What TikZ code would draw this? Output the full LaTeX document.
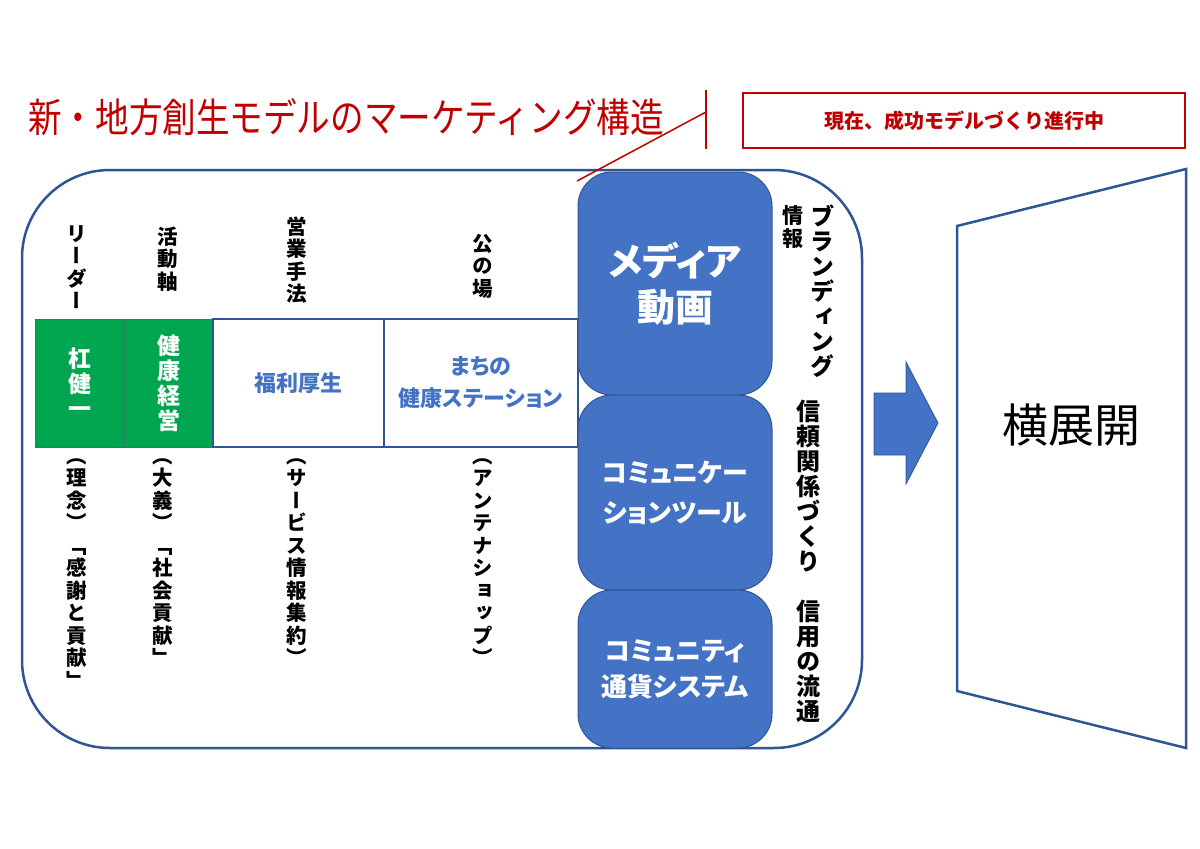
\documentclass[tikz,border=0pt]{standalone}
\usepackage{fontspec}
\setmainfont{Noto Sans CJK JP}
\newfontfamily\tatefont[RawFeature=+vert]{Noto Sans CJK JP}
\newfontfamily\boxfont[RawFeature=+palt]{Noto Sans CJK JP}
\usepackage{graphicx}
\usepackage{tikz}
\usetikzlibrary{positioning}
\definecolor{darkred}{HTML}{C00000}
\definecolor{blu}{HTML}{4472C4}
\definecolor{dblu}{HTML}{2F5597}
\definecolor{grn}{HTML}{00A550}
\definecolor{dgrn}{HTML}{2E7D5B}
\makeatletter
\newcommand\tate[1]{\vbox{\lineskiplimit=-\maxdimen\tate@a#1\@nil}}
\def\tate@a#1{\ifx\@nil#1\else\hbox to 1em{\hss#1\hss}\expandafter\tate@a\fi}
\makeatother

\begin{document}
\begin{tikzpicture}[
    x=1pt, y=-1pt,
    frame/.style={draw=dblu, line width=2.5pt, rounded corners=88pt},
    gbox/.style={rectangle, draw=dgrn, line width=1pt, fill=grn, text=white,
                 minimum width=89pt, minimum height=128pt,
                 font=\tatefont\bfseries\fontsize{23}{25}\selectfont},
    wbox/.style={rectangle, draw=dblu, line width=2.5pt, fill=white, text=blu,
                 minimum height=128pt, align=center,
                 font=\boxfont\bfseries\fontsize{22}{32}\selectfont},
    bbox/.style={rectangle, draw=dblu, line width=1pt, fill=blu, text=white,
                 minimum width=194pt, rounded corners=34pt, align=center},
    vlab/.style={inner sep=0pt, font=\tatefont\bfseries\fontsize{20.5}{22.5}\selectfont},
    rlab/.style={inner sep=0pt, anchor=north,
                 font=\tatefont\bfseries\fontsize{24}{25}\selectfont},
    redln/.style={draw=darkred, line width=1.5pt}
]
\useasboundingbox (0,0) rectangle (1200,849);
\fill[white] (0,0) rectangle (1200,849);

\node[anchor=west, inner sep=0pt, text=darkred, font=\fontsize{40}{44}\selectfont] (title) at (28,117)
    {\scalebox{0.84}[1]{新・地方創生モデルのマーケティング構造}};
\node[draw=darkred, line width=2.5pt, minimum width=442pt, minimum height=55pt, text=darkred,
      font=\bfseries\fontsize{20}{24}\selectfont] (status) at (964,120.5) {現在、成功モデルづくり進行中};

\draw[frame] (22,170) rectangle (862,748);

\node[vlab] (ldr)   at (77,267)  {\tate{リーダー}};
\node[vlab] (axis)  at (168,259) {\tate{活動軸}};
\node[vlab] (sales) at (297,260) {\tate{営業手法}};
\node[vlab] (pub)   at (483,266) {\tate{公の場}};

\node[gbox] (kou)   at (79.5,383)  {\tate{杠健一}};
\node[gbox] (kenko) at (168.5,383) {\tate{健康経営}};
\node[wbox, minimum width=171pt] (fukuri) at (298.5,383) {福利厚生};
\node[wbox, minimum width=194pt] (machi)  at (481,383)   {まちの\\健康ステーション};

\node[vlab, anchor=north] (ldrb)   at (77,458)  {\tate{（理念）「感謝と貢献」}};
\node[vlab, anchor=north] (axisb)  at (163,458) {\tate{（大義）「社会貢献」}};
\node[vlab, anchor=north] (salesb) at (297,458) {\tate{（サービス情報集約）}};
\node[vlab, anchor=north] (pubb)   at (483,458) {\tate{（アンテナショップ）}};

\node[bbox, minimum height=223pt, font=\boxfont\bfseries\fontsize{38}{46}\selectfont] (media) at (675,283.5) {メディア\\動画};
\node[bbox, minimum height=195pt, font=\boxfont\bfseries\fontsize{26}{40}\selectfont] (comm)  at (675,492.5) {コミュニケー\\ションツール};
\node[bbox, minimum height=158pt, font=\boxfont\bfseries\fontsize{26}{36}\selectfont] (coin)  at (675,669)   {コミュニティ\\通貨システム};

\node[rlab] (brand)  at (822,205) {\tate{ブランディング}};
\node[rlab, font=\tatefont\bfseries\fontsize{21}{23}\selectfont] (joho) at (793,205) {\tate{情報}};
\node[rlab] (trust)  at (808,400) {\tate{信頼関係づくり}};
\node[rlab] (credit) at (808,600) {\tate{信用の流通}};

\filldraw[fill=blu, draw=dblu, line width=0.8pt]
    (874,393) -- (906,393) -- (906,362) -- (938,423) -- (906,484) -- (906,455) -- (874,455) -- cycle;
\draw[dblu, line width=2.5pt] (957,226) -- (1186,169) -- (1186,748) -- (957,691) -- cycle;
\node[font=\fontsize{46}{50}\selectfont] (yoko) at (1071,425) {横展開};

\coordinate (ctop) at (706,90);
\coordinate (cbot) at (706,149);
\coordinate (cmid) at (706,112);
\coordinate (ctip) at (577,181);
\draw[redln] (ctop) -- (cbot);
\draw[redln] (cmid) -- (ctip);
\end{tikzpicture}
\end{document}
